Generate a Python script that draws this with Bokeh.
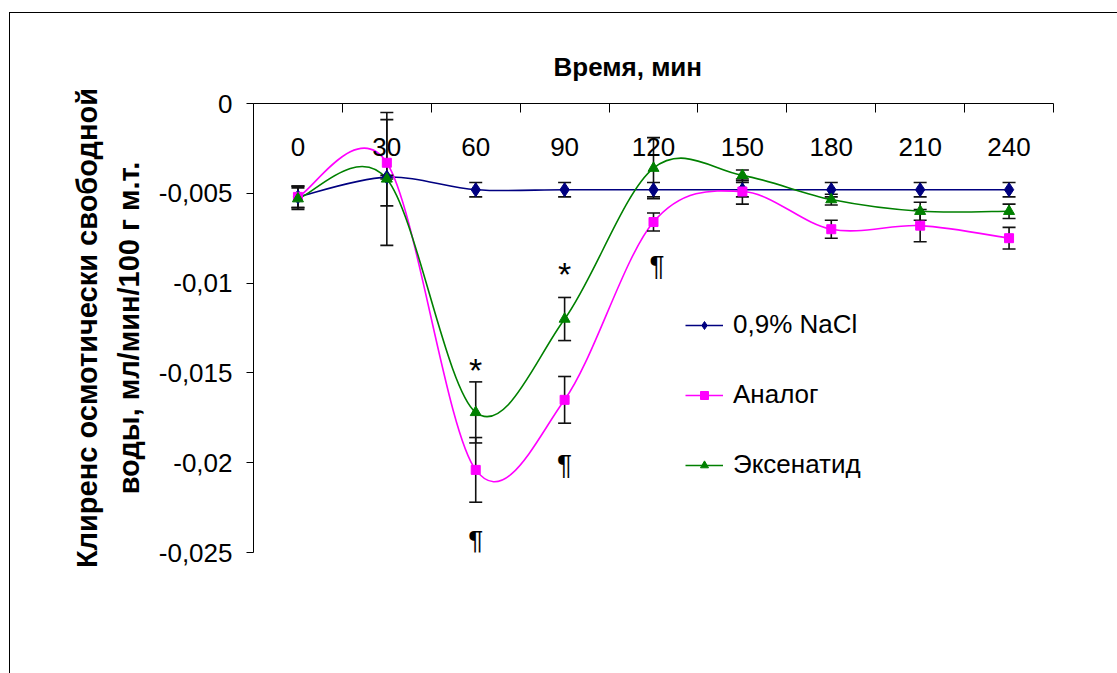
from bokeh.embed import file_html
from bokeh.models import ColumnDataSource, FixedTicker, Label, Legend, LegendItem, Range1d, Title
from bokeh.plotting import figure
from bokeh.resources import INLINE

# time points (min) shown as categories along the top axis
times = ["0", "30", "60", "90", "120", "150", "180", "210", "240"]

# free-water clearance, ml/min/100 g body mass
nacl = [-0.0052, -0.0041, -0.0048, -0.0048, -0.0048, -0.0048, -0.0048, -0.0048, -0.0048]
nacl_err = [0.0006, 0.0001, 0.0004, 0.0004, 0.0004, 0.0004, 0.0004, 0.0004, 0.0004]

analog = [-0.0052, -0.0033, -0.0204, -0.0165, -0.0066, -0.0049, -0.0070, -0.0068, -0.0075]
analog_err = [0.0006, 0.0024, 0.0018, 0.0013, 0.0005, 0.0007, 0.0005, 0.0009, 0.0006]

exenatide = [-0.0053, -0.0042, -0.0172, -0.0120, -0.0036, -0.0040, -0.00535, -0.0060, -0.0060]
exenatide_err = [0.0006, 0.0037, 0.0017, 0.0012, 0.0017, 0.0003, 0.0003, 0.0005, 0.0004]

y_ticks = [0, -0.005, -0.01, -0.015, -0.02, -0.025]
y_tick_labels = ["0", "-0,005", "-0,01", "-0,015", "-0,02", "-0,025"]

series_names = ["0,9% NaCl", "Аналог", "Эксенатид"]

FONT = "Liberation Sans"
NAVY = "#000080"
MAGENTA = "#FF00FF"
GREEN = "#008000"

xs = list(range(len(times)))


def smooth_segments(x, y):
    """Cubic Bezier pieces through every point (Catmull-Rom style smoothing)."""
    n = len(x)
    seg = {k: [] for k in ("x0", "y0", "x1", "y1", "cx0", "cy0", "cx1", "cy1")}
    for i in range(n - 1):
        a = i - 1 if i > 0 else i
        d = i + 2 if i + 2 < n else i + 1
        seg["x0"].append(x[i])
        seg["y0"].append(y[i])
        seg["x1"].append(x[i + 1])
        seg["y1"].append(y[i + 1])
        seg["cx0"].append(x[i] + (x[i + 1] - x[a]) / 6)
        seg["cy0"].append(y[i] + (y[i + 1] - y[a]) / 6)
        seg["cx1"].append(x[i + 1] - (x[d] - x[i]) / 6)
        seg["cy1"].append(y[i + 1] - (y[d] - y[i]) / 6)
    return ColumnDataSource(seg)


p = figure(
    frame_width=800,
    frame_height=449,
    min_border_left=243,
    min_border_top=90,
    min_border_right=64,
    min_border_bottom=121,
    x_range=Range1d(-0.5, len(times) - 0.5),
    y_range=Range1d(y_ticks[-1], y_ticks[0]),
    x_axis_location="above",
    output_backend="svg",
    toolbar_location=None,
)
p.styles = {
    "margin-left": "9px",
    "margin-top": "12px",
    "border-left": "1px solid #000",
    "border-top": "1px solid #000",
}
p.background_fill_color = "white"
p.border_fill_color = "white"
p.outline_line_color = None
p.xgrid.visible = False
p.ygrid.visible = False

# top category axis: ticks between categories, labels inside the plot below the line
xa = p.xaxis[0]
xa.ticker = FixedTicker(ticks=xs, minor_ticks=[i - 0.5 for i in range(len(times) + 1)])
xa.major_label_overrides = {i: t for i, t in enumerate(times)}
xa.major_tick_in = 0
xa.major_tick_out = 0
xa.minor_tick_in = 9
xa.minor_tick_out = 0
xa.minor_tick_line_color = "black"
xa.axis_line_color = "black"
xa.major_label_standoff = -52
xa.major_label_text_font = FONT
xa.major_label_text_font_size = "26px"
xa.major_label_text_color = "black"

ya = p.yaxis[0]
ya.ticker = FixedTicker(ticks=y_ticks)
ya.major_label_overrides = {v: t for v, t in zip(y_ticks, y_tick_labels)}
ya.major_tick_in = 0
ya.major_tick_out = 7
ya.minor_tick_out = 0
ya.minor_tick_in = 0
ya.axis_line_color = "black"
ya.major_tick_line_color = "black"
ya.major_label_standoff = 14
ya.major_label_text_font = FONT
ya.major_label_text_font_size = "26px"
ya.major_label_text_color = "black"
ya.axis_label = "Клиренс осмотически свободной\nводы, мл/мин/100 г м.т."
ya.axis_label_text_font = FONT
ya.axis_label_text_font_size = "29px"
ya.axis_label_text_font_style = "bold"
ya.axis_label_text_color = "black"
ya.axis_label_text_line_height = 1.31
ya.axis_label_standoff = 11

p.add_layout(Title(text="Время, мин", align="left", offset=300, standoff=43,
                   text_font=FONT, text_font_size="26px", text_font_style="bold",
                   text_color="black"), "above")

series = [
    (nacl, nacl_err, NAVY, "diamond", 14),
    (analog, analog_err, MAGENTA, "square", 9),
    (exenatide, exenatide_err, GREEN, "triangle", 11),
]

line_renderers = []
for vals, _, color, _, _ in series:
    line_renderers.append(
        p.bezier("x0", "y0", "x1", "y1", "cx0", "cy0", "cx1", "cy1",
                 source=smooth_segments(xs, vals), line_color=color, line_width=1.6)
    )

# error bars with caps
for vals, err, _, _, _ in series:
    lo = [v - e for v, e in zip(vals, err)]
    hi = [v + e for v, e in zip(vals, err)]
    p.segment(x0=xs, y0=lo, x1=xs, y1=hi, line_color="#111111", line_width=1.6)
    p.scatter(x=xs + xs, y=lo + hi, marker="dash", size=13,
              line_color="#111111", line_width=1.6)

marker_renderers = []
for vals, _, color, marker, size in series:
    marker_renderers.append(
        p.scatter(x=xs, y=vals, marker=marker, size=size,
                  fill_color=color, line_color=color, line_width=1)
    )

legend = Legend(
    items=[LegendItem(label=name, renderers=[lr, mr])
           for name, lr, mr in zip(series_names, line_renderers, marker_renderers)],
    location=(432, 72),
    border_line_color=None,
    background_fill_alpha=0,
    padding=0,
    margin=0,
    spacing=39,
    glyph_width=38,
    glyph_height=20,
    label_height=20,
    label_standoff=10,
    label_text_font=FONT,
    label_text_font_size="26px",
    label_text_color="black",
)
p.add_layout(legend)

# significance marks
marks = [(2, -0.01486, "*", "34px"), (3, -0.00952, "*", "34px"),
         (2, -0.02435, "¶", "28px"), (3, -0.02010, "¶", "28px"), (4.04, -0.00900, "¶", "28px")]
for x, y, t, fs in marks:
    p.add_layout(Label(x=x, y=y, text=t, text_font=FONT, text_font_size=fs,
                       text_color="black", text_align="center", text_baseline="alphabetic"))

open("out.html", "w").write(file_html(p, INLINE))
